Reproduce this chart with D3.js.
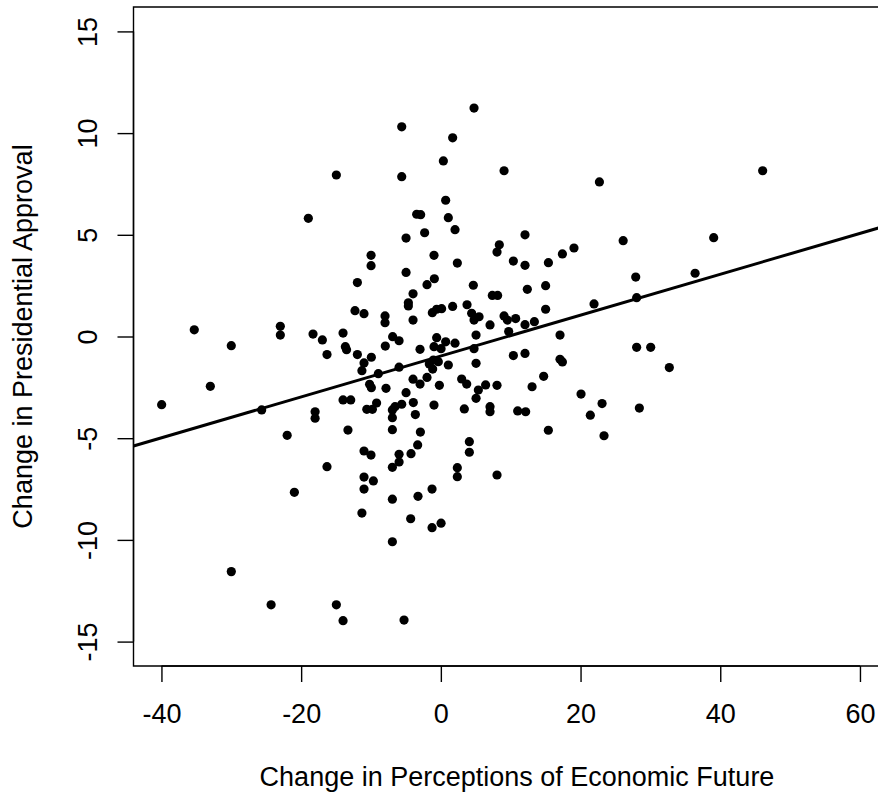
<!DOCTYPE html>
<meta charset="utf-8">
<html>
<head>
<script src="https://d3js.org/d3.v7.min.js"></script>
<style>
  body { margin: 0; background: #fff; overflow: hidden; }
  svg { display: block; }
  svg text { font-family: "Liberation Sans", Arial, sans-serif; fill: #000; }
</style>
</head>
<body>
<svg width="878" height="792"></svg>
<script>

// change in perceptions of economic future
var econX = [
  4.75, -5.6, 1.69, 0.36, -5.6, 9.05, 22.7, 0.69, -3.46, -2.89,
  1.07, 2.03, -2.32, -4.98, 12.05, 8.37, 8.04, 10.38, 12.05, 15.4,
  17.4, 19.06, 26.1, -0.98, 2.36, -4.98, -0.93, -14.96, -18.97, -9.99,
  -9.99, -11.95, 46.07, 39.06, 36.4, 27.9, -12.29, -11.0, -35.3, -22.98,
  -22.98, -30.0, -18.3, -16.96, -14.0, -13.67, -13.5, -16.3, -11.95, -9.95,
  -11.0, -11.3, -8.95, -10.2, -9.95, -7.85, -33.0, -39.97, -14.0, -12.9,
  -9.2, -10.6, -9.8, -25.65, -18.0, -18.0, -22.0, -13.3, -11.0, -10.0,
  -16.3, -11.0, -9.66, -11.0, -20.97, -11.3, -30.0, -24.3, -14.96, -14.0,
  -6.94, -1.26, 0.03, -5.27, -4.32, -6.94, -3.27, -1.26, 2.36, 2.36,
  8.04, -6.94, -5.98, -5.98, -4.27, -3.32, 4.08, 4.08, -6.94, -2.93,
  15.39, 23.36, 21.4, 23.08, -3.65, -6.94, -6.94, -6.56, -5.6, -3.94,
  -0.98, 3.36, 5.04, 7.04, 7.04, 11.0, 12.14, 28.42, 28.03, 28.03,
  30.04, 32.71, -1.98, 4.65, 12.38, 15.0, -3.98, -4.65, -4.65, 7.37,
  8.13, -1.22, -0.6, 0.11, 1.69, 3.75, 21.93, 15.0, -7.99, -7.99,
  -3.98, 4.41, 4.75, 5.47, 9.05, 9.52, 10.71, 7.04, 12.05, 13.39,
  9.71, 5.04, 17.06, -6.9, -5.98, -7.95, -0.6, 0.69, 2.03, -0.98,
  0.03, -2.98, 4.75, 10.38, 12.05, 17.06, 17.4, 5.04, -1.07, -1.65,
  -0.36, -1.17, 1.07, -5.98, -1.98, -3.98, -2.98, 2.98, 3.7, -0.21,
  5.37, 6.41, 8.04, 14.72, 13.06, 20.07, -4.98
];

// change in presidential approval
var approvalY = [
  11.23, 10.31, 9.77, 8.63, 7.86, 8.15, 7.6, 6.7, 6.01, 5.99,
  5.84, 5.25, 5.1, 4.84, 5.0, 4.51, 4.15, 3.71, 3.5, 3.63,
  4.06, 4.35, 4.71, 3.99, 3.61, 3.15, 2.84, 7.94, 5.81, 3.99,
  3.48, 2.65, 8.15, 4.86, 3.11, 2.92, 1.27, 1.12, 0.33, 0.5,
  0.07, -0.45, 0.12, -0.17, 0.17, -0.5, -0.65, -0.89, -0.89, -1.02,
  -1.3, -1.68, -1.83, -2.35, -2.52, -2.55, -2.45, -3.35, -3.12, -3.12,
  -3.27, -3.58, -3.58, -3.61, -3.7, -4.02, -4.86, -4.6, -5.63, -5.83,
  -6.4, -6.91, -7.1, -7.5, -7.66, -8.68, -11.56, -13.19, -13.19, -13.97,
  -10.09, -9.4, -9.18, -13.94, -8.96, -8.0, -7.86, -7.5, -6.45, -6.89,
  -6.81, -6.43, -6.17, -5.79, -5.76, -5.33, -5.17, -5.69, -4.58, -4.7,
  -4.61, -4.88, -3.87, -3.3, -3.84, -3.99, -3.61, -3.45, -3.33, -3.25,
  -3.37, -3.56, -3.04, -3.45, -3.7, -3.66, -3.7, -3.52, 1.91, -0.53,
  -0.53, -1.53, 2.55, 2.52, 2.32, 2.5, 2.1, 1.66, 1.5, 2.02,
  2.02, 1.17, 1.34, 1.37, 1.48, 1.56, 1.6, 1.34, 1.01, 0.68,
  0.81, 1.14, 0.81, 0.97, 1.01, 0.81, 0.88, 0.57, 0.58, 0.73,
  0.24, 0.07, 0.07, -0.01, -0.21, -0.47, -0.06, -0.26, -0.33, -0.5,
  -0.6, -0.63, -0.6, -0.94, -0.83, -1.12, -1.25, -1.32, -1.16, -1.35,
  -1.24, -1.6, -1.4, -1.51, -2.01, -2.1, -2.34, -2.09, -2.34, -2.4,
  -2.63, -2.38, -2.4, -1.96, -2.47, -2.83, -2.76
];

// fitted line
var fitIntercept = -0.96;
var fitSlope = 0.1005;

var xTicks = [-40, -20, 0, 20, 40, 60];
var yTicks = [-15, -10, -5, 0, 5, 10, 15];

var svg = d3.select("svg");

var x = d3.scaleLinear().domain([-44, 64]).range([133.5, 887.9]);
var y = d3.scaleLinear().domain([-16.2, 16.2]).range([666, 7]);

var fontSize = 27;

// plot box (the right side lies outside the picture)
svg.append("path")
    .attr("d", "M" + x(64) + "," + y(16.2) + "H" + x(-44) + "V" + y(-16.2) + "H" + x(64))
    .attr("fill", "none")
    .attr("stroke", "#000")
    .attr("stroke-width", 1.4);

var xAxis = svg.append("g")
    .attr("transform", "translate(0," + y(-16.2) + ")")
    .call(d3.axisBottom(x).tickValues(xTicks).tickSize(16).tickPadding(22).tickSizeOuter(0));

xAxis.select(".domain").attr("d", "M" + x(-40) + ",0H" + x(60));
xAxis.selectAll("line, path").attr("stroke", "#000").attr("stroke-width", 1.4);
xAxis.selectAll("text")
    .style("font-size", fontSize + "px")
    .style("font-family", "Liberation Sans, Arial, sans-serif")
    .text(function(d) { return d < 0 ? "-" + Math.abs(d) : d; });

var yAxis = svg.append("g")
    .attr("transform", "translate(" + x(-44) + ",0)")
    .call(d3.axisLeft(y).tickValues(yTicks).tickSize(16).tickSizeOuter(0));

yAxis.select(".domain").attr("d", "M0," + y(-15) + "V" + y(15));
yAxis.selectAll("line, path").attr("stroke", "#000").attr("stroke-width", 1.4);
yAxis.selectAll("text")
    .attr("transform", "rotate(-90)")
    .attr("x", 0)
    .attr("y", -37)
    .attr("dy", null)
    .attr("text-anchor", "middle")
    .style("font-size", fontSize + "px")
    .style("font-family", "Liberation Sans, Arial, sans-serif")
    .text(function(d) { return d < 0 ? "-" + Math.abs(d) : d; });

// axis titles
svg.append("text")
    .attr("x", 517)
    .attr("y", 786)
    .attr("text-anchor", "middle")
    .style("font-size", fontSize + "px")
    .text("Change in Perceptions of Economic Future");

svg.append("text")
    .attr("transform", "translate(32," + y(0) + ") rotate(-90)")
    .attr("text-anchor", "middle")
    .style("font-size", fontSize + "px")
    .text("Change in Presidential Approval");

// clip to the plot region
svg.append("clipPath").attr("id", "plotclip")
  .append("rect")
    .attr("x", x(-44)).attr("y", y(16.2))
    .attr("width", x(64) - x(-44)).attr("height", y(-16.2) - y(16.2));

var points = econX.map(function(v, i) { return {x: v, y: approvalY[i]}; });

svg.append("g")
  .selectAll("circle")
  .data(points)
  .enter().append("circle")
    .attr("cx", function(d) { return x(d.x); })
    .attr("cy", function(d) { return y(d.y); })
    .attr("r", 4.6)
    .attr("fill", "#000");

svg.append("line")
    .attr("clip-path", "url(#plotclip)")
    .attr("x1", x(-44)).attr("y1", y(fitIntercept + fitSlope * -44))
    .attr("x2", x(64)).attr("y2", y(fitIntercept + fitSlope * 64))
    .attr("stroke", "#000")
    .attr("stroke-width", 3);

</script>
</body>
</html>
